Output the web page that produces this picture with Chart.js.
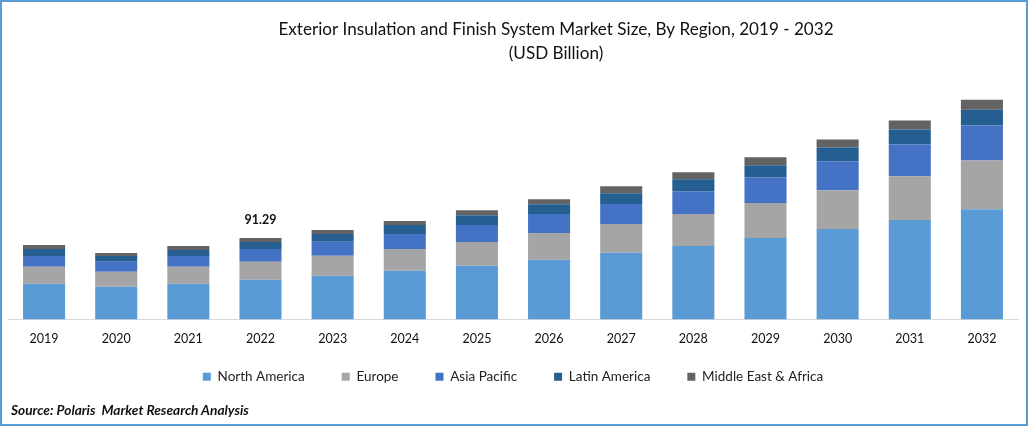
<!DOCTYPE html>
<html>
<head>
<meta charset="utf-8">
<title>Exterior Insulation and Finish System Market Size</title>
<script src="https://cdn.jsdelivr.net/npm/chart.js@4"></script>
<style>
  html, body { margin: 0; padding: 0; background: #fff; }
  #frame { position: relative; box-sizing: border-box; width: 1028px; height: 426px; border: 2px solid #5B9BD5; overflow: hidden; }
  #wrap { position: absolute; left: -2px; top: -2px; width: 1028px; height: 426px; }
  #source { position: absolute; left: 9px; top: 399px; font: italic bold 13.7px Lato, sans-serif; color: #111; }
</style>
</head>
<body>
<div id="frame">
  <div id="wrap"><canvas id="chart" width="1028" height="426"></canvas></div>
  <div id="source">Source: Polaris&nbsp; Market Research Analysis</div>
</div>
<script>
const years = ['2019','2020','2021','2022','2023','2024','2025','2026','2027','2028','2029','2030','2031','2032'];
const northAmerica = [40.1,36.7,40.1,44.5,49.0,54.5,60.1,66.8,74.6,82.4,91.3,101.3,111.3,123.5];
const europe = [18.9,16.7,18.9,20.0,22.3,24.5,26.7,30.1,32.3,35.6,39.0,43.4,49.0,54.5];
const asiaPacific = [12.2,11.1,12.2,14.5,15.6,16.7,18.9,21.1,22.3,25.6,28.9,32.3,35.6,39.0];
const latinAmerica = [7.8,6.7,6.7,7.8,8.9,10.0,11.1,11.1,12.2,13.4,13.4,15.6,16.7,17.8];
const middleEast = [4.5,3.3,4.5,4.49,4.5,4.5,5.6,5.6,7.8,7.8,8.9,8.9,10.0,11.1];
const labelYear = '2022';
const labelText = '91.29';

// Total label above the 2022 bar
const totalLabel = {
  id: 'totalLabel',
  afterDatasetsDraw(chart) {
    const i = years.indexOf(labelYear);
    const total = chart.data.datasets.reduce((sum, ds) => sum + ds.data[i], 0);
    const ctx = chart.ctx;
    ctx.save();
    ctx.font = 'bold 12.5px Lato';
    ctx.fillStyle = '#111';
    ctx.textAlign = 'center';
    ctx.textBaseline = 'middle';
    ctx.fillText(labelText, chart.scales.x.getPixelForValue(i), chart.scales.y.getPixelForValue(total) - 18);
    ctx.restore();
  }
};

// Title sits right of centre and the legend closer to the axis than layout allows
const nudgeBoxes = {
  id: 'nudgeBoxes',
  afterLayout(chart) {
    chart.titleBlock.left += 86;
    const h = chart.legend.height;
    chart.legend.top = 333;
    chart.legend.bottom = 333 + h;
  }
};

const ctx = document.getElementById('chart').getContext('2d');
new Chart(ctx, {
  type: 'bar',
  data: {
    labels: years,
    datasets: [
      { label: 'North America', data: northAmerica, backgroundColor: '#5B9BD5' },
      { label: 'Europe', data: europe, backgroundColor: '#A5A5A5' },
      { label: 'Asia Pacific', data: asiaPacific, backgroundColor: '#4472C4' },
      { label: 'Latin America', data: latinAmerica, backgroundColor: '#255E91' },
      { label: 'Middle East & Africa', data: middleEast, backgroundColor: '#636363' }
    ]
  },
  options: {
    responsive: false,
    animation: false,
    devicePixelRatio: 1,
    layout: { padding: { left: 8, right: 10, top: 18, bottom: 7 } },
    datasets: { bar: { barPercentage: 0.583, categoryPercentage: 1 } },
    scales: {
      x: {
        stacked: true,
        grid: { display: false, drawTicks: false },
        border: { color: '#D9D9D9', width: 1 },
        ticks: { color: '#111', font: { family: 'Lato', size: 12.5 }, padding: 12, maxRotation: 0, autoSkip: false }
      },
      y: { stacked: true, display: false, min: 0, max: 257 }
    },
    plugins: {
      title: {
        display: true,
        text: ['Exterior Insulation and Finish System Market Size, By Region, 2019 - 2032', '(USD Billion)'],
        color: '#111',
        font: { family: 'Lato', size: 17.1, weight: 'normal', lineHeight: 1.4 },
        padding: { top: 0, bottom: 24 }
      },
      legend: {
        position: 'bottom',
        labels: { color: '#222', font: { family: 'Lato', size: 13.5 }, boxWidth: 8, boxHeight: 8, padding: 37 }
      },
      tooltip: { enabled: false }
    }
  },
  plugins: [totalLabel, nudgeBoxes]
});
</script>
</body>
</html>
